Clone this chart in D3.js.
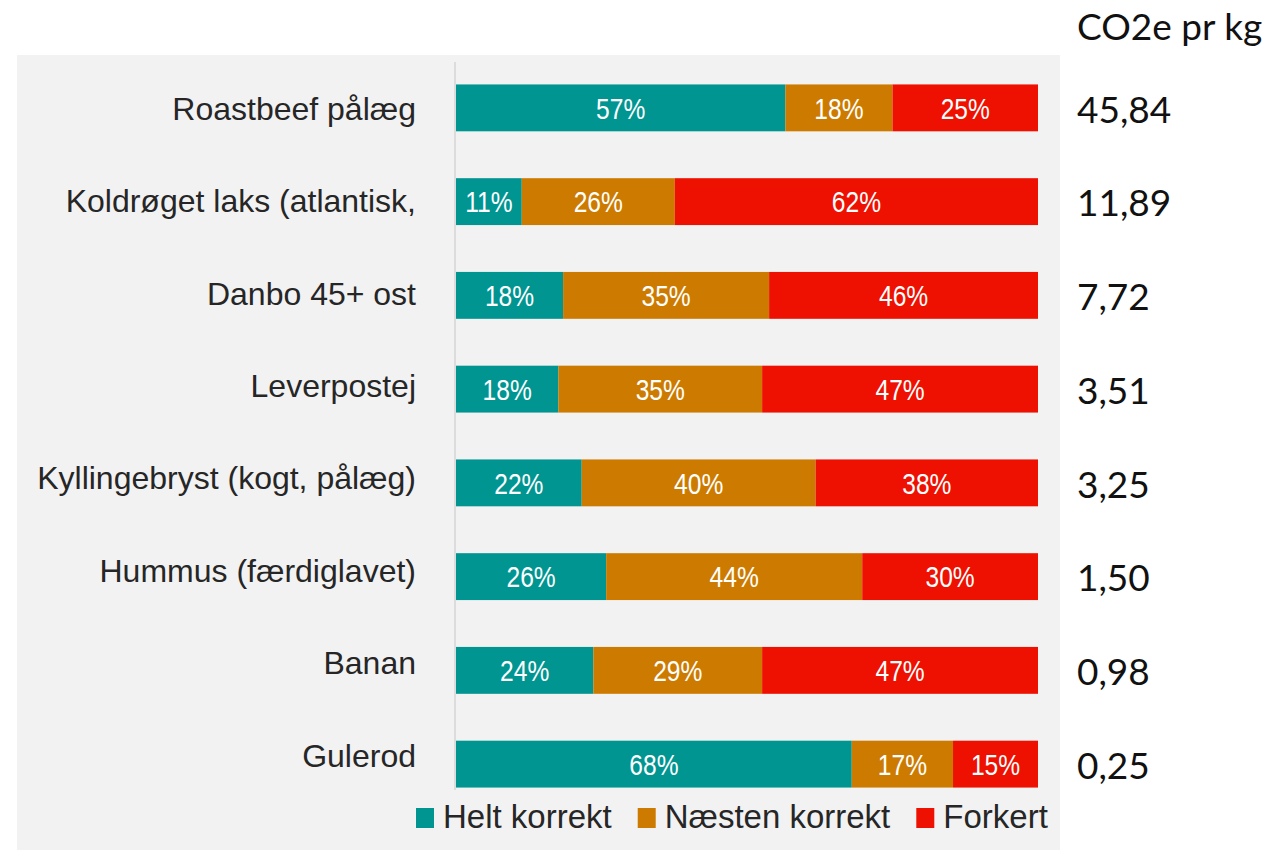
<!DOCTYPE html>
<html>
<head>
<meta charset="utf-8">
<script src="https://cdn.jsdelivr.net/npm/d3@7"></script>
<style>
  html, body { margin: 0; padding: 0; background: #ffffff; }
  svg { display: block; }
</style>
</head>
<body>
<svg id="chart" width="1273" height="850"></svg>
<script>
// ---- data ----
const categories = [
  "Roastbeef pålæg",
  "Koldrøget laks (atlantisk,",
  "Danbo 45+ ost",
  "Leverpostej",
  "Kyllingebryst (kogt, pålæg)",
  "Hummus (færdiglavet)",
  "Banan",
  "Gulerod"
];
const seriesNames = ["Helt korrekt", "Næsten korrekt", "Forkert"];
const heltKorrekt    = [56.6, 11.3, 18.4, 17.6, 21.6, 25.8, 23.6, 68.0];
const naestenKorrekt = [18.4, 26.3, 35.4, 35.0, 40.2, 44.0, 29.0, 17.4];
const forkert        = [25.0, 62.4, 46.2, 47.4, 38.2, 30.2, 47.4, 14.6];
const co2Labels = ["45,84", "11,89", "7,72", "3,51", "3,25", "1,50", "0,98", "0,25"];
const co2Title = "CO2e pr kg";
const colors = ["#009591", "#CD7B00", "#EE1000"];

// ---- build table ----
const keys = ["helt", "naesten", "forkert"];
const rows = categories.map((c, i) => ({
  cat: c, helt: heltKorrekt[i], naesten: naestenKorrekt[i], forkert: forkert[i], co2: co2Labels[i]
}));
const stacked = d3.stack().keys(keys)(rows);

const svg = d3.select("#chart");

// background panel
svg.append("rect").attr("x", 17).attr("y", 55).attr("width", 1043).attr("height", 795)
  .attr("fill", "#F2F2F2");

// scales
const x = d3.scaleLinear().domain([0, 100]).range([456, 1038]);
const y = d3.scaleBand().domain(categories).range([61, 811]).paddingInner(0.5).paddingOuter(0.25);
const yLabel = d3.scalePoint().domain(categories).range([108.5, 755]);

// axis line
const yAxis = d3.axisLeft(y).tickSize(0).tickFormat("");
const axisG = svg.append("g").attr("transform", "translate(455,0)").call(yAxis);
axisG.select(".domain").attr("stroke", "#D4D4D4").attr("stroke-width", 1.5)
  .attr("d", "M0,62V790");

// bars
const layer = svg.append("g").selectAll("g").data(stacked).join("g")
  .attr("fill", (d, i) => colors[i]);
layer.selectAll("rect").data(d => d).join("rect")
  .attr("x", d => x(d[0]))
  .attr("y", d => y(d.data.cat))
  .attr("width", d => x(d[1]) - x(d[0]))
  .attr("height", y.bandwidth());

// percent labels
const pctG = svg.append("g");
stacked.forEach((s) => {
  s.forEach(d => {
    const cx = (x(d[0]) + x(d[1])) / 2;
    const cy = y(d.data.cat) + y.bandwidth() / 2 + 10.8;
    pctG.append("text")
      .attr("transform", `translate(${cx},${cy}) scale(0.82,1)`)
      .attr("text-anchor", "middle")
      .attr("font-family", "'Liberation Sans', Arial, sans-serif")
      .attr("font-size", 30)
      .attr("fill", "#ffffff")
      .text(Math.round(d[1] - d[0]) + "%");
  });
});

// category labels
svg.append("g").selectAll("text").data(categories).join("text")
  .attr("x", 416)
  .attr("y", d => yLabel(d) + 11.5)
  .attr("text-anchor", "end")
  .attr("font-family", "'Liberation Sans', Arial, sans-serif")
  .attr("font-size", 32)
  .attr("fill", "#262626")
  .text(d => d);

// CO2 values
svg.append("g").selectAll("text").data(rows).join("text")
  .attr("x", 1077)
  .attr("y", d => y(d.cat) + y.bandwidth() / 2 + 1.5 + 13.2)
  .attr("font-family", "Lato, 'Open Sans', sans-serif")
  .attr("font-size", 37)
  .attr("fill", "#111111")
  .text(d => d.co2);

svg.append("text")
  .attr("x", 1077).attr("y", 40)
  .attr("font-family", "Lato, 'Open Sans', sans-serif")
  .attr("font-size", 37)
  .attr("fill", "#111111")
  .text(co2Title);

// legend
const legend = svg.append("g");
let lx = 416;
seriesNames.forEach((name, i) => {
  legend.append("rect").attr("x", lx).attr("y", 808).attr("width", 18).attr("height", 20)
    .attr("fill", colors[i]);
  const t = legend.append("text")
    .attr("x", lx + 27).attr("y", 828)
    .attr("font-family", "'Liberation Sans', Arial, sans-serif")
    .attr("font-size", 33)
    .attr("fill", "#262626")
    .text(name);
  lx = lx + 27 + t.node().getComputedTextLength() + 26;
});
</script>
</body>
</html>
